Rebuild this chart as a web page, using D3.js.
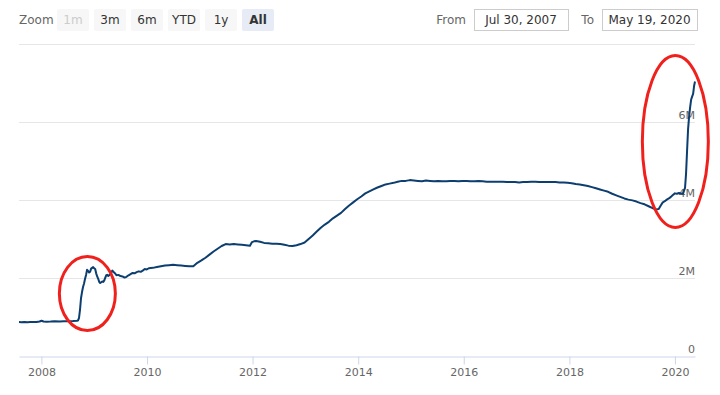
<!DOCTYPE html>
<html>
<head>
<meta charset="utf-8">
<script src="https://cdn.jsdelivr.net/npm/d3@7"></script>
<style>
  body { margin: 0; background: #fff; }
  #chart { width: 720px; height: 395px; }
</style>
</head>
<body>
<div id="chart"></div>
<script>
// Data (total assets, in M = millions of millions)
const dates = [
  '2007-07-30','2007-08-15','2007-09-05','2007-09-26','2007-10-17','2007-11-07','2007-11-28','2007-12-19',
  '2008-01-02','2008-01-16','2008-02-06','2008-03-05','2008-04-02','2008-05-07','2008-06-04','2008-07-02',
  '2008-08-06','2008-09-03','2008-09-10','2008-09-17','2008-09-24','2008-10-01','2008-10-08','2008-10-15',
  '2008-10-22','2008-10-29','2008-11-05','2008-11-12','2008-11-19','2008-11-26','2008-12-03','2008-12-10',
  '2008-12-17','2008-12-24','2008-12-31','2009-01-07','2009-01-14','2009-01-21','2009-01-28','2009-02-04',
  '2009-02-11','2009-02-18','2009-02-25','2009-03-04','2009-03-11','2009-03-18','2009-03-25','2009-04-01',
  '2009-04-08','2009-04-22','2009-05-06','2009-05-13','2009-05-27','2009-06-03','2009-06-17','2009-07-01',
  '2009-07-15','2009-07-29','2009-08-12','2009-08-26','2009-09-09','2009-09-23','2009-10-07','2009-10-21',
  '2009-11-04','2009-11-18','2009-12-02','2009-12-16','2009-12-30','2010-01-13','2010-02-10','2010-03-10',
  '2010-04-07','2010-05-05','2010-06-02','2010-06-30','2010-07-28','2010-08-25','2010-09-22','2010-10-20',
  '2010-11-17','2010-12-15','2011-01-12','2011-02-09','2011-03-09','2011-04-06','2011-05-04','2011-06-01',
  '2011-06-29','2011-07-27','2011-08-24','2011-09-21','2011-10-19','2011-11-16','2011-12-14','2011-12-28',
  '2012-01-11','2012-01-25','2012-02-22','2012-03-21','2012-04-18','2012-05-16','2012-06-13','2012-07-11',
  '2012-08-08','2012-09-05','2012-10-03','2012-10-31','2012-11-28','2012-12-26','2013-01-23','2013-02-20',
  '2013-03-20','2013-04-17','2013-05-15','2013-06-12','2013-07-10','2013-08-07','2013-09-04','2013-10-02',
  '2013-10-30','2013-11-27','2013-12-25','2014-01-22','2014-02-19','2014-03-19','2014-04-16','2014-05-14',
  '2014-06-11','2014-07-09','2014-08-06','2014-09-03','2014-10-01','2014-10-29','2014-11-26','2014-12-24',
  '2015-01-21','2015-02-18','2015-03-18','2015-04-15','2015-05-13','2015-06-10','2015-07-08','2015-08-05',
  '2015-09-02','2015-09-30','2015-10-28','2015-11-25','2015-12-23','2016-01-20','2016-02-17','2016-03-16',
  '2016-04-13','2016-05-11','2016-06-08','2016-07-06','2016-08-03','2016-08-31','2016-09-28','2016-10-26',
  '2016-11-23','2016-12-21','2017-01-18','2017-02-15','2017-03-15','2017-04-12','2017-05-10','2017-06-07',
  '2017-07-05','2017-08-02','2017-08-30','2017-09-27','2017-10-25','2017-11-22','2017-12-20','2018-01-17',
  '2018-02-14','2018-03-14','2018-04-11','2018-05-09','2018-06-06','2018-07-04','2018-08-01','2018-08-29',
  '2018-09-26','2018-10-24','2018-11-21','2018-12-19','2019-01-16','2019-02-13','2019-03-13','2019-04-10',
  '2019-05-08','2019-06-05','2019-07-03','2019-07-31','2019-08-28','2019-09-11','2019-09-25','2019-10-09',
  '2019-10-23','2019-11-06','2019-11-20','2019-12-04','2019-12-18','2020-01-01','2020-01-15','2020-01-29',
  '2020-02-12','2020-02-26','2020-03-04','2020-03-11','2020-03-18','2020-03-25','2020-04-01','2020-04-08',
  '2020-04-15','2020-04-22','2020-04-29','2020-05-06','2020-05-13','2020-05-19'
];
const totalAssets = [
  0.869,0.868,0.873,0.866,0.871,0.875,0.872,0.884,
  0.905,0.884,0.878,0.882,0.889,0.886,0.890,0.894,
  0.896,0.903,0.910,0.970,1.180,1.480,1.640,1.770,
  1.860,1.980,2.080,2.210,2.180,2.140,2.160,2.240,
  2.260,2.280,2.250,2.230,2.120,2.040,1.980,1.900,
  1.870,1.890,1.910,1.900,1.940,2.010,2.070,2.080,
  2.050,2.100,2.190,2.160,2.110,2.070,2.080,2.050,
  2.040,2.010,2.030,2.070,2.100,2.130,2.120,2.150,
  2.170,2.160,2.190,2.230,2.220,2.250,2.260,2.280,
  2.300,2.320,2.330,2.340,2.330,2.320,2.310,2.300,
  2.300,2.390,2.450,2.520,2.600,2.680,2.750,2.820,
  2.870,2.860,2.870,2.860,2.850,2.840,2.830,2.920,
  2.940,2.950,2.930,2.900,2.890,2.880,2.880,2.870,
  2.850,2.830,2.820,2.840,2.870,2.910,3.000,3.090,
  3.190,3.290,3.370,3.440,3.530,3.600,3.670,3.770,
  3.860,3.940,4.020,4.090,4.170,4.220,4.270,4.320,
  4.360,4.400,4.420,4.440,4.470,4.490,4.490,4.510,
  4.500,4.490,4.480,4.500,4.490,4.480,4.490,4.480,
  4.480,4.490,4.490,4.480,4.490,4.490,4.480,4.480,
  4.490,4.480,4.470,4.470,4.470,4.470,4.470,4.460,
  4.460,4.460,4.450,4.460,4.460,4.470,4.470,4.460,
  4.460,4.460,4.460,4.460,4.450,4.450,4.440,4.430,
  4.410,4.400,4.380,4.360,4.330,4.300,4.270,4.240,
  4.210,4.160,4.120,4.080,4.040,4.010,3.990,3.960,
  3.920,3.890,3.840,3.790,3.760,3.770,3.860,3.940,
  3.970,4.010,4.040,4.080,4.130,4.170,4.160,4.180,
  4.170,4.160,4.240,4.310,4.670,5.250,5.810,6.130,
  6.370,6.570,6.650,6.720,6.930,7.040
];
const yGridValues = [0, 2, 4, 6, 8];
const yLabelValues = [0, 2, 4, 6];
const zoomButtons = ['1m', '3m', '6m', 'YTD', '1y', 'All'];
const fromDate = 'Jul 30, 2007';
const toDate = 'May 19, 2020';
// annotation circles: centre date / value
const annotDates = ['2008-11-14', '2020-01-04'];
const annotValues = [1.6, 5.5];

// Constant
const width = 720;
const height = 395;
const plot = {left: 19, right: 695, top: 44, bottom: 356};
const lineColor = '#0c3e70';
const gridColor = '#e6e6e6';
const axisColor = '#ccd6eb';
const labelColor = '#666666';
const fontFamily = '"DejaVu Sans", Verdana, sans-serif';
const parseDate = d3.timeParse('%Y-%m-%d');

const xScale = d3.scaleTime()
                .domain([parseDate(dates[0]), parseDate(dates[dates.length - 1])])
                .range([plot.left, plot.right]);
const yScale = d3.scaleLinear()
                .domain([0, 8])
                .range([plot.bottom, plot.top]);

document.addEventListener('DOMContentLoaded', function () {
    const svg = d3.select('#chart')
            .append('svg')
                .attr('width', width)
                .attr('height', height)
                .style('font-family', fontFamily);

    // Range selector
    svg.append('text')
        .attr('x', 19)
        .attr('y', 24)
        .attr('fill', labelColor)
        .style('font-size', '12px')
        .text('Zoom');

    const btn = svg.selectAll('.zoomBtn')
        .data(zoomButtons)
        .enter()
        .append('g')
            .attr('class', 'zoomBtn')
            .attr('transform', (d, i) => `translate(${57 + i * 37}, 9)`);

    btn.append('rect')
        .attr('width', 32)
        .attr('height', 22)
        .attr('rx', 2)
        .attr('fill', d => d === 'All' ? '#e6ebf5' : '#f7f7f7');

    btn.append('text')
        .attr('x', 16)
        .attr('y', 15)
        .attr('text-anchor', 'middle')
        .style('font-size', '12px')
        .style('font-weight', d => d === 'All' ? 'bold' : 'normal')
        .attr('fill', d => d === '1m' ? '#cccccc' : '#333333')
        .text(d => d);

    // From / To inputs
    const inputs = [
        {label: 'From', value: fromDate, lx: 466, bx: 474, bw: 94},
        {label: 'To', value: toDate, lx: 594, bx: 602, bw: 95}
    ];
    inputs.forEach(inp => {
        svg.append('text')
            .attr('x', inp.lx)
            .attr('y', 24)
            .attr('text-anchor', 'end')
            .attr('fill', labelColor)
            .style('font-size', '12px')
            .text(inp.label);
        svg.append('rect')
            .attr('x', inp.bx + 0.5)
            .attr('y', 9.5)
            .attr('width', inp.bw)
            .attr('height', 21)
            .attr('fill', '#fff')
            .attr('stroke', '#cccccc');
        svg.append('text')
            .attr('x', inp.bx + inp.bw / 2)
            .attr('y', 24)
            .attr('text-anchor', 'middle')
            .attr('fill', '#333333')
            .style('font-size', '12px')
            .text(inp.value);
    });

    // Grid lines
    svg.selectAll('.grid')
        .data(yGridValues.filter(v => v > 0))
        .enter()
        .append('line')
            .attr('class', 'grid')
            .attr('x1', plot.left)
            .attr('x2', plot.right)
            .attr('y1', d => Math.round(yScale(d)) + 0.5)
            .attr('y2', d => Math.round(yScale(d)) + 0.5)
            .attr('stroke', gridColor);

    // Y labels (inside, right)
    svg.selectAll('.yLabel')
        .data(yLabelValues)
        .enter()
        .append('text')
            .attr('class', 'yLabel')
            .attr('x', plot.right)
            .attr('y', d => yScale(d) - 3)
            .attr('text-anchor', 'end')
            .attr('fill', labelColor)
            .style('font-size', '11px')
            .text(d => d === 0 ? '0' : d + 'M');

    // X axis
    const xAxis = svg.append('g')
        .attr('transform', `translate(0, ${plot.bottom + 0.5})`)
        .call(d3.axisBottom(xScale)
                .ticks(d3.timeYear.every(2))
                .tickFormat(d3.timeFormat('%Y'))
                .tickSize(8)
                .tickSizeOuter(0)
                .tickPadding(4));
    xAxis.select('.domain').attr('stroke', axisColor);
    xAxis.selectAll('.tick line').attr('stroke', axisColor);
    xAxis.selectAll('.tick text')
        .attr('fill', labelColor)
        .style('font-size', '11px')
        .style('font-family', fontFamily);

    // Line
    const series = dates.map((d, i) => ({date: parseDate(d), value: totalAssets[i]}));
    const line = d3.line()
        .x(d => xScale(d.date))
        .y(d => yScale(d.value));

    svg.append('path')
        .datum(series)
        .attr('d', line)
        .attr('fill', 'none')
        .attr('stroke', lineColor)
        .attr('stroke-width', 2)
        .attr('stroke-linejoin', 'round');

    // Red annotation ellipses
    const annotSize = [{rx: 28, ry: 37}, {rx: 33, ry: 86}];
    svg.selectAll('.annot')
        .data(annotDates)
        .enter()
        .append('ellipse')
            .attr('class', 'annot')
            .attr('cx', d => xScale(parseDate(d)))
            .attr('cy', (d, i) => yScale(annotValues[i]))
            .attr('rx', (d, i) => annotSize[i].rx)
            .attr('ry', (d, i) => annotSize[i].ry)
            .attr('fill', 'none')
            .attr('stroke', '#f0201c')
            .attr('stroke-width', 3);
});
</script>
</body>
</html>
